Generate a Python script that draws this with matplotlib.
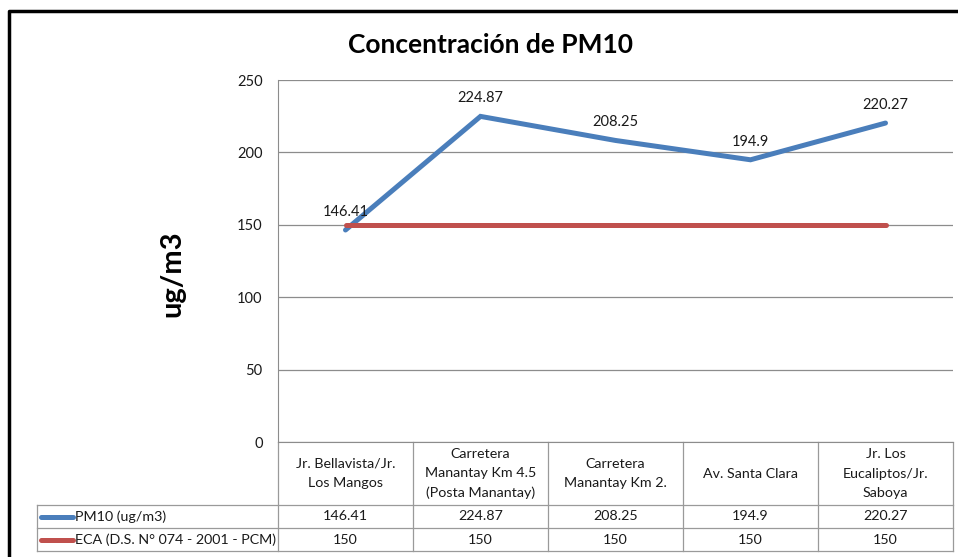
import numpy as np
import matplotlib.pyplot as plt
from matplotlib.transforms import blended_transform_factory

# data
sitios = ["Jr. Bellavista/Jr.\nLos Mangos",
          "Carretera\nManantay Km 4.5\n(Posta Manantay)",
          "Carretera\nManantay Km 2.",
          "Av. Santa Clara",
          "Jr. Los\nEucaliptos/Jr.\nSaboya"]
pm10 = [146.41, 224.87, 208.25, 194.9, 220.27]
eca = [150, 150, 150, 150, 150]
pm10_txt = ["146.41", "224.87", "208.25", "194.9", "220.27"]
eca_txt = ["150", "150", "150", "150", "150"]
series_names = ["PM10 (ug/m3)", "ECA (D.S. N\u00b0 074 - 2001 - PCM)"]
y_ticks = [0, 50, 100, 150, 200, 250]

blue = '#4A7EBB'
red = '#C0504D'
grid_c = '#8C8C8C'

plt.rcParams['font.family'] = ['Lato', 'DejaVu Sans']

W, H = 958, 557
fig = plt.figure(figsize=(W/100, H/100), dpi=100)

'overlay in pixel coords for border and table'
ov = fig.add_axes([0, 0, 1, 1])
ov.set_xlim(0, W)
ov.set_ylim(H, 0)
ov.axis('off')

'main plot area'
x0, x1, ytop, ybot = 278, 953, 80, 442
ax = fig.add_axes([x0/W, (H-ybot)/H, (x1-x0)/W, (ybot-ytop)/H])
ax.patch.set_alpha(0)
x = np.arange(len(sitios))
ax.plot(x, pm10, color=blue, lw=3.6, solid_capstyle='round', solid_joinstyle='miter', zorder=3)
ax.plot(x, eca, color=red, lw=3.6, solid_capstyle='round', zorder=3)
for xi, v, t in zip(x, pm10, pm10_txt):
    ax.annotate(t, (xi, v), xytext=(0, 8), textcoords='offset points',
                ha='center', va='bottom', fontsize=10.5, color='#1a1a1a')
ax.set_xlim(-0.5, len(sitios) - 0.5)
ax.set_ylim(0, 250)
ax.set_yticks(y_ticks)
ax.set_xticks([])
ax.tick_params(axis='y', length=0, pad=11, labelsize=10.5, labelcolor='#1a1a1a')
ax.grid(axis='y', color=grid_c, lw=0.9)
ax.set_axisbelow(True)
for s in ['top', 'right']:
    ax.spines[s].set_visible(False)
ax.spines['left'].set_color(grid_c)
ax.spines['bottom'].set_color(grid_c)

'titles'
fig.text(490/W, 1 - 45/H, 'Concentraci\u00f3n de PM10', ha='center', va='center',
         fontsize=19, fontweight='bold')
fig.text(172/W, 1 - 274/H, 'ug/m3', ha='center', va='center', rotation=90,
         fontsize=21, fontweight='bold')

'border'
ov.plot([9, 9, 970], [570, 11, 11], color='black', lw=2.5, clip_on=False)

'data table'
tr = blended_transform_factory(ax.transData, ov.transData)
edges = np.arange(len(sitios) + 1) - 0.5
r0, r1, r2, r3 = 442, 505, 528, 551
tc = '#9A9A9A'
for e in edges:
    ov.plot([e, e], [r0, r3], color=tc, lw=0.9, transform=tr)
for yy in [r1, r2, r3]:
    ov.plot([37, 953], [yy, yy], color=tc, lw=0.9)
ov.plot([37, 37], [r1, r3], color=tc, lw=0.9)
for xi, s in zip(x, sitios):
    ov.text(xi, (r0 + r1)/2, s, ha='center', va='center', fontsize=10.3,
            linespacing=1.75, transform=tr, color='#1a1a1a')
rows = [(pm10_txt, blue), (eca_txt, red)]
for (vals, c), name, (ya, yb) in zip(rows, series_names, [(r1, r2), (r2, r3)]):
    yc = (ya + yb)/2
    ov.plot([41, 73], [yc, yc], color=c, lw=3.6, solid_capstyle='round')
    ov.text(75, yc, name, ha='left', va='center', fontsize=10.3, color='#1a1a1a')
    for xi, t in zip(x, vals):
        ov.text(xi, yc, t, ha='center', va='center', fontsize=10.3,
                transform=tr, color='#1a1a1a')

fig.savefig('out.png', dpi=100)
